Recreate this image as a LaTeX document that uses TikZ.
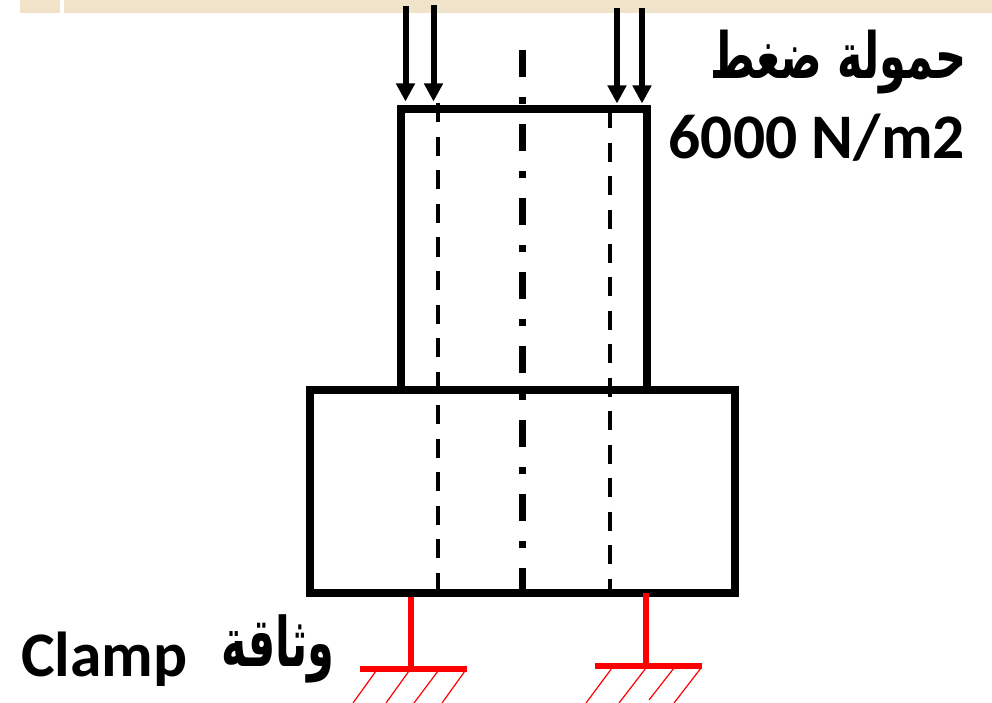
\documentclass[tikz,border=0pt]{standalone}
\usepackage{fontspec}
\setmainfont{Carlito}
\newfontfamily\arabicfont[Script=Arabic]{DejaVu Sans}
\TeXXeTstate=1
\usetikzlibrary{arrows.meta}
\definecolor{bandbeige}{HTML}{F1E3C9}
\definecolor{clampred}{HTML}{FF0000}
\tikzset{
  x=1pt,y=-1pt,
  band/.style={fill=bandbeige,draw=none},
  wall/.style={draw=black,line width=8pt,line join=miter},
  hiddenline/.style={draw=black,line width=4.5pt,dash pattern=on 19pt off 14.5pt},
  axisline/.style={draw=black,line width=7pt,dash pattern=on 27pt off 20pt on 7pt off 20pt},
  load/.style={draw=black,line width=6pt,-{Triangle[length=18pt,width=18pt]},shorten >=-0.5pt},
  clampstem/.style={draw=clampred,line width=6pt},
  clampbar/.style={draw=clampred,line width=6pt},
  hatch/.style={draw=clampred,line width=1.2pt},
  label/.style={inner sep=0pt,font=\bfseries\fontsize{63.5}{63.5}\selectfont},
  arlabel/.style={inner sep=0pt,font=\arabicfont\bfseries\fontsize{44}{44}\selectfont},
}
\begin{document}
\begin{tikzpicture}
\useasboundingbox (0,0) rectangle (992,703);
\fill[band] (20,0) rectangle (60,13);
\fill[band] (64,0) rectangle (992,13);
% axes and hidden lines
\coordinate (axT) at (522,50); \coordinate (axB) at (522,591);
\coordinate (hlT) at (438,103.5); \coordinate (hlB) at (438,591);
\coordinate (hrT) at (610,109.5); \coordinate (hrB) at (610,591);
\draw[hiddenline] (hlT) -- (hlB);
\draw[hiddenline] (hrT) -- (hrB);
\draw[axisline] (axT) -- (axB);
% bodies
\node[wall,minimum width=245.5pt,minimum height=281pt,anchor=north west,inner sep=0pt,outer sep=0pt] (upper) at (401,109) {};
\node[wall,minimum width=425pt,minimum height=203pt,anchor=north west,inner sep=0pt,outer sep=0pt] (lower) at (309.7,390) {};
% loads
\coordinate (a1s) at (405.5,6); \coordinate (a1e) at (405.5,101);
\coordinate (a2s) at (433.5,5); \coordinate (a2e) at (433.5,101);
\coordinate (a3s) at (617,8); \coordinate (a3e) at (617,103);
\coordinate (a4s) at (642,8); \coordinate (a4e) at (642,103);
\draw[load] (a1s) -- (a1e);
\draw[load] (a2s) -- (a2e);
\draw[load] (a3s) -- (a3e);
\draw[load] (a4s) -- (a4e);
% left clamp
\coordinate (c1t) at (411,597); \coordinate (c1b) at (411,669);
\coordinate (c1l) at (360,669); \coordinate (c1r) at (467,669);
\draw[clampstem] (c1t) -- (c1b);
\draw[clampbar] (c1l) -- (c1r);
\draw[hatch] (376,671) -- (353,703);
\draw[hatch] (409,671) -- (386,703);
\draw[hatch] (438,671) -- (414,703);
\draw[hatch] (465,671) -- (442,703);
% right clamp
\coordinate (c2t) at (646,593); \coordinate (c2b) at (646,666);
\coordinate (c2l) at (595,666); \coordinate (c2r) at (702,666);
\draw[clampstem] (c2t) -- (c2b);
\draw[clampbar] (c2l) -- (c2r);
\draw[hatch] (612,668) -- (586,703);
\draw[hatch] (646,668) -- (619,703);
\draw[hatch] (674,668) -- (649,700);
\draw[hatch] (701,668) -- (674,703);
% labels
\node[arlabel,anchor=base east] (loadar) at (967,79) {\scalebox{0.98}[1.45]{\beginR حمولة ضغط\endR}};
\node[label,anchor=base east] (loadval) at (965,159) {6000 N/m2};
\node[label,anchor=base west] (clampen) at (21,676) {Clamp};
\node[arlabel,anchor=base east] (clampar) at (335,666) {\scalebox{0.98}[1.55]{\beginR وثاقة\endR}};
\end{tikzpicture}
\end{document}
